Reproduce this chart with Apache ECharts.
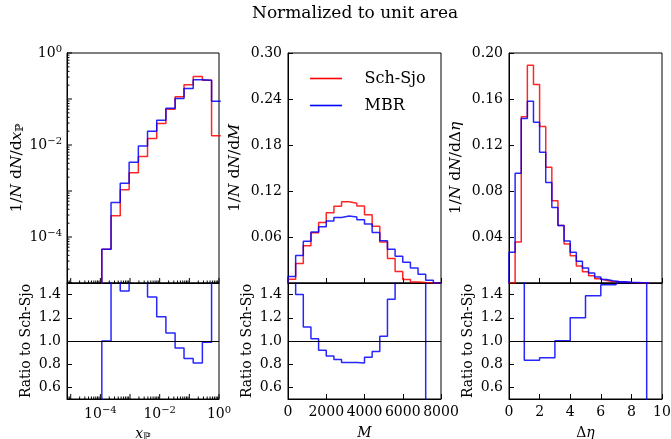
<!DOCTYPE html>
<html>
<head>
<meta charset="utf-8">
<script src="https://cdn.jsdelivr.net/npm/echarts@6/dist/echarts.min.js"></script>
<style>
  html, body { margin: 0; padding: 0; background: #fff; }
  #chart { width: 671px; height: 439px; }
</style>
</head>
<body>
<div id="chart"></div>
<script>
// x_P histogram, log bins
const xpEdges = [1.12e-4, 2.29e-4, 4.68e-4, 9.33e-4, 1.91e-3, 3.89e-3, 7.94e-3, 0.0162, 0.0331, 0.0661, 0.135, 0.275, 0.562, 1.15];
const xpSchSjo = [5.4e-5, 2.9e-4, 1.07e-3, 2.5e-3, 5.6e-3, 0.0138, 0.0295, 0.060, 0.112, 0.204, 0.309, 0.257, 0.0158];
const xpMBR = [5.4e-5, 5.6e-4, 1.48e-3, 4.2e-3, 9.5e-3, 0.020, 0.0347, 0.063, 0.102, 0.170, 0.263, 0.257, 0.089];
const xpRatioEdges = [1e-5, 1.12e-4, 2.29e-4, 4.68e-4, 9.33e-4, 1.91e-3, 3.89e-3, 7.94e-3, 0.0162, 0.0331, 0.0661, 0.135, 0.275, 0.562, 1.15];
const xpRatio = [0, 1.0, 1.6, 1.43, 1.6, 1.6, 1.38, 1.21, 1.07, 0.94, 0.85, 0.81, 0.99, 5.5];

// M histogram
const mEdges = [0, 400, 800, 1200, 1600, 2000, 2400, 2800, 3200, 3600, 4000, 4400, 4800, 5200, 5600, 6000, 6400, 6800, 7200, 7600, 8000];
const mSchSjo = [0.005, 0.0255, 0.0485, 0.0655, 0.079, 0.0915, 0.100, 0.106, 0.104, 0.1005, 0.089, 0.074, 0.0535, 0.032, 0.015, 0.0045, 0.0013, 0.0005, 0, 0];
const mMBR = [0.0085, 0.036, 0.0545, 0.0665, 0.0735, 0.081, 0.0855, 0.0875, 0.086, 0.0825, 0.077, 0.066, 0.055, 0.044, 0.035, 0.027, 0.0195, 0.0115, 0.0035, 0];
const mRatio = [1.8, 1.40, 1.12, 1.02, 0.92, 0.87, 0.84, 0.815, 0.815, 0.81, 0.86, 0.91, 1.04, 1.36, 2.3, 6, 15, 23, 0, 0];

// delta eta histogram
const etaEdges = [0, 0.4, 0.8, 1.2, 1.6, 2.0, 2.4, 2.8, 3.2, 3.6, 4.0, 4.4, 4.8, 5.2, 5.6, 6.0, 6.4, 6.8, 7.2, 7.6, 8.0, 8.4, 8.8, 9.2];
const etaSchSjo = [0, 0.0357, 0.1446, 0.1894, 0.1727, 0.136, 0.1007, 0.0715, 0.050, 0.034, 0.0238, 0.0148, 0.0097, 0.0062, 0.0036, 0.0022, 0.0013, 0.001, 0.0007, 0.0004, 0.0002, 0.0001, 0];
const etaMBR = [0.0267, 0.0955, 0.143, 0.158, 0.1397, 0.1137, 0.0874, 0.0657, 0.050, 0.0365, 0.0267, 0.019, 0.0131, 0.0088, 0.0053, 0.003, 0.0019, 0.0013, 0.001, 0.0006, 0.0004, 0.0002, 0.0001];
const etaRatioEdges = [0, 1, 2, 3, 4, 5, 6, 7, 8, 9, 10];
const etaRatio = [3.4, 0.835, 0.856, 1.003, 1.2, 1.39, 1.485, 1.505, 1.6, 0];

const RED = '#ff0000';
const BLUE = '#0000ff';
const SERIF = 'DejaVu Serif';

// step outline of a histogram
function steps(edges, vals, startBase, endBase) {
  const pts = [];
  if (startBase != null) pts.push([edges[0], startBase]);
  vals.forEach((v, i) => {
    pts.push([edges[i], v]);
    pts.push([edges[i + 1], v]);
  });
  if (endBase != null) pts.push([edges[edges.length - 1], endBase]);
  return pts;
}

// log-axis tick positions (1..9 x 10^k)
function logTicks(lo, hi) {
  const out = [];
  for (let k = lo; k <= hi; k++) {
    for (let d = 1; d <= 9; d++) {
      out.push([d * Math.pow(10, k), d === 1 ? 1 : 0]);
    }
  }
  return out;
}

function logLabel(v) {
  const e = Math.log10(v);
  const r = Math.round(e);
  if (Math.abs(e - r) > 1e-6 || r % 2 !== 0) return '';
  return '{b|10}{s|' + (r < 0 ? '\u2212' + (-r) : r) + '}';
}

const labelRich = {
  b: { fontFamily: SERIF, fontSize: 14, color: '#000' },
  s: { fontFamily: SERIF, fontSize: 10, color: '#000', verticalAlign: 'top', padding: [0, 0, 8, 0] }
};
const nameRich = {
  n: { fontFamily: SERIF, fontSize: 14, color: '#000' },
  i: { fontFamily: SERIF, fontSize: 14, fontStyle: 'italic', color: '#000' },
  s: { fontFamily: SERIF, fontSize: 10, color: '#000', padding: [6, 0, 0, 0] },
  N: { fontFamily: SERIF, fontSize: 15.5, color: '#000' },
  I: { fontFamily: SERIF, fontSize: 15.5, fontStyle: 'italic', color: '#000' },
  S: { fontFamily: SERIF, fontSize: 11, color: '#000', padding: [7, 0, 0, 0] }
};

const grids = [
  { left: 67, top: 53, width: 152, height: 230 },
  { left: 288, top: 53, width: 153, height: 230 },
  { left: 509, top: 53, width: 153, height: 230 },
  { left: 67, top: 283, width: 152, height: 116 },
  { left: 288, top: 283, width: 153, height: 116 },
  { left: 509, top: 283, width: 153, height: 116 }
].map(g => Object.assign({ show: true, borderColor: '#000', borderWidth: 1, backgroundColor: 'transparent', outerBoundsMode: 'none', containLabel: false }, g));

const axisBase = {
  axisLine: { show: true, lineStyle: { color: '#000', width: 1 } },
  axisTick: { show: true, inside: true, length: 5, lineStyle: { color: '#000', width: 1 } },
  splitLine: { show: false },
  axisLabel: { color: '#000', fontFamily: SERIF, fontSize: 14, margin: 6 },
  nameTextStyle: { rich: nameRich },
  nameLocation: 'middle'
};
function ax(o) {
  const a = JSON.parse(JSON.stringify(axisBase));
  const r = Object.assign(a, o);
  if (o.axisLabel) r.axisLabel = Object.assign({}, axisBase.axisLabel, o.axisLabel);
  if (o.axisTick) r.axisTick = Object.assign({}, axisBase.axisTick, o.axisTick);
  return r;
}

const plain = v => String(v);

const xAxes = [
  ax({ gridIndex: 0, type: 'log', logBase: 10, min: 7.5e-6, max: 1, axisTick: { show: false }, axisLabel: { show: false } }),
  ax({ gridIndex: 1, type: 'value', min: 0, max: 8000, interval: 2000, axisLabel: { show: false } }),
  ax({ gridIndex: 2, type: 'value', min: 0, max: 10, interval: 2, axisLabel: { show: false } }),
  ax({ gridIndex: 3, type: 'log', logBase: 10, min: 7.5e-6, max: 1, axisTick: { show: false },
       axisLabel: { formatter: logLabel, rich: labelRich, margin: 6 }, name: '{i|x}{s|\u2119}', nameGap: 27 }),
  ax({ gridIndex: 4, type: 'value', min: 0, max: 8000, interval: 2000, name: '{i|M}', nameGap: 27,
       axisLabel: { formatter: plain, showMaxLabel: true, hideOverlap: false } }),
  ax({ gridIndex: 5, type: 'value', min: 0, max: 10, interval: 2, name: '{n|\u0394}{i|\u03b7}', nameGap: 27,
       axisLabel: { formatter: plain, showMaxLabel: true, hideOverlap: false } })
];

const ratioName = '{n|Ratio to Sch-Sjo}';
const yAxes = [
  ax({ gridIndex: 0, type: 'log', logBase: 10, min: 1e-5, max: 1, axisTick: { show: false },
       axisLabel: { formatter: logLabel, rich: labelRich, margin: 5 },
       name: '{N|1/}{I|N}{N| d}{I|N}{N|/d}{I|x}{S|\u2119}', nameGap: 40 }),
  ax({ gridIndex: 1, type: 'value', min: 0, max: 0.30, interval: 0.06, axisLabel: { showMinLabel: false, formatter: v => v.toFixed(2) },
       name: '{N|1/}{I|N}{N| d}{I|N}{N|/d}{I|M}', nameGap: 45 }),
  ax({ gridIndex: 2, type: 'value', min: 0, max: 0.20, interval: 0.04, axisLabel: { showMinLabel: false, formatter: v => v.toFixed(2) },
       name: '{N|1/}{I|N}{N| d}{I|N}{N|/d\u0394}{I|\u03b7}', nameGap: 45 }),
  ax({ gridIndex: 3, type: 'value', min: 0.5, max: 1.5, splitNumber: 5, axisLabel: { showMinLabel: false, showMaxLabel: false, formatter: v => v.toFixed(1) },
       name: ratioName, nameGap: 34 }),
  ax({ gridIndex: 4, type: 'value', min: 0.5, max: 1.5, splitNumber: 5, axisLabel: { showMinLabel: false, showMaxLabel: false, formatter: v => v.toFixed(1) },
       name: ratioName, nameGap: 34 }),
  ax({ gridIndex: 5, type: 'value', min: 0.5, max: 1.5, splitNumber: 5, axisLabel: { showMinLabel: false, showMaxLabel: false, formatter: v => v.toFixed(1) },
       name: ratioName, nameGap: 34 })
];

function hist(name, color, idx, pts) {
  return {
    name: name, type: 'line', xAxisIndex: idx, yAxisIndex: idx,
    data: pts, symbol: 'none', silent: true,
    lineStyle: { color: color, width: 1.5, opacity: 0.85 },
    itemStyle: { color: color }
  };
}

function ratio(idx, pts) {
  const s = hist('ratio', BLUE, idx, pts);
  s.markLine = {
    silent: true, symbol: 'none', label: { show: false },
    lineStyle: { color: '#000', width: 1, type: 'solid' },
    data: [{ yAxis: 1 }]
  };
  return s;
}

// log minor/major ticks drawn inside the frame
function xTickSeries(idx, refY) {
  return {
    type: 'custom', xAxisIndex: idx, yAxisIndex: idx, silent: true, z: 5,
    data: logTicks(-6, 0).map(t => [t[0], t[1], refY]),
    renderItem: function (params, api) {
      const cs = params.coordSys;
      const x = api.coord([api.value(0), api.value(2)])[0];
      if (x < cs.x - 0.5 || x > cs.x + cs.width + 0.5) return;
      const y = cs.y + cs.height;
      const len = api.value(1) === 1 ? 5 : 2.5;
      return { type: 'line', shape: { x1: x, y1: y, x2: x, y2: y - len }, style: { stroke: '#000', lineWidth: 1 } };
    }
  };
}
function yTickSeries(idx, refX) {
  return {
    type: 'custom', xAxisIndex: idx, yAxisIndex: idx, silent: true, z: 5,
    data: logTicks(-6, 0).map(t => [refX, t[0], t[1]]),
    renderItem: function (params, api) {
      const cs = params.coordSys;
      const y = api.coord([api.value(0), api.value(1)])[1];
      if (y < cs.y - 0.5 || y > cs.y + cs.height + 0.5) return;
      const x = cs.x;
      const len = api.value(2) === 1 ? 5 : 2.5;
      return { type: 'line', shape: { x1: x, y1: y, x2: x + len, y2: y }, style: { stroke: '#000', lineWidth: 1 } };
    }
  };
}

const chart = echarts.init(document.getElementById('chart'), null, { renderer: 'canvas' });
chart.setOption({
  animation: false,
  backgroundColor: '#fff',
  title: {
    text: 'Normalized to unit area', left: 252, top: 5, padding: 0,
    textStyle: { fontFamily: SERIF, fontSize: 17, fontWeight: 'normal', color: '#000' }
  },
  legend: {
    data: ['Sch-Sjo', 'MBR'], orient: 'vertical', left: 310, top: 70.5,
    icon: 'path://M0,0L40,0L40,2L0,2Z',
    itemWidth: 37, itemHeight: 1.6, itemGap: 11, padding: 0,
    textStyle: { fontFamily: SERIF, fontSize: 16, color: '#000', padding: [0, 0, 0, 15] }
  },
  grid: grids,
  xAxis: xAxes,
  yAxis: yAxes,
  series: [
    hist('Sch-Sjo', RED, 0, steps(xpEdges, xpSchSjo, 1e-7)),
    hist('MBR', BLUE, 0, steps(xpEdges, xpMBR, 1e-7)),
    hist('Sch-Sjo', RED, 1, steps(mEdges, mSchSjo, 0, 0)),
    hist('MBR', BLUE, 1, steps(mEdges, mMBR, 0, 0)),
    hist('Sch-Sjo', RED, 2, steps(etaEdges, etaSchSjo, 0, 0)),
    hist('MBR', BLUE, 2, steps(etaEdges, etaMBR, 0, 0)),
    ratio(3, steps(xpRatioEdges, xpRatio)),
    ratio(4, steps(mEdges, mRatio)),
    ratio(5, steps(etaRatioEdges, etaRatio)),
    xTickSeries(0, 1e-3),
    xTickSeries(3, 1),
    yTickSeries(0, 1e-3)
  ]
});
</script>
</body>
</html>
